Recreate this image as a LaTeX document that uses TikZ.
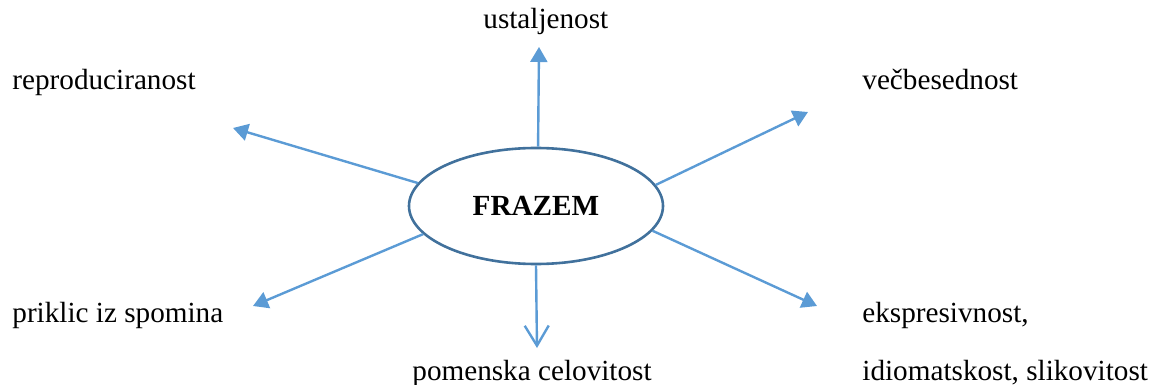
\documentclass[tikz,border=0pt]{standalone}
\usepackage{fontspec}
\setmainfont{Liberation Serif}
\usetikzlibrary{arrows.meta,shapes.geometric}

\definecolor{arrowblue}{RGB}{91,155,213}
\definecolor{rimblue}{RGB}{65,113,156}

\begin{document}
\begin{tikzpicture}[
x=0.5pt, y=-0.5pt,
label/.style={
    anchor=base west,
    inner sep=0pt,
    font=\fontsize{14.6}{17}\selectfont},
core/.style={
    draw=rimblue,
    line width=1.3pt,
    ellipse,
    inner sep=0pt,
    minimum width=127pt,
    minimum height=58pt,
    font=\fontsize{14.6}{17}\selectfont\bfseries},
link/.style={
    draw=arrowblue,
    line width=1.2pt,
    -{Triangle[width=8.5pt,length=7.5pt]}}
]

\useasboundingbox (0,0) rectangle (1152,385);

% centre
\node (frazem) at (536,206) [core] {FRAZEM};

% labels
\node (ust) at (483,29) [label] {ustaljenost};
\node (rep) at (12,90) [label] {reproduciranost};
\node (vec) at (862,90) [label] {večbesednost};
\node (pri) at (12,322) [label] {priklic iz spomina};
\node (eks) at (862,322) [label] {ekspresivnost,};
\node (idi) at (862,380) [label] {idiomatskost, slikovitost};
\node (pom) at (412,380) [label] {pomenska celovitost};

% arrow tips
\coordinate (tipust) at (539,47);
\coordinate (tiprep) at (233,128);
\coordinate (tipvec) at (808,112);
\coordinate (tippri) at (253,306);
\coordinate (tipeks) at (817,306);
\coordinate (tippom) at (537,348);

\draw [link] (frazem.88) -- (tipust);
\draw [link] (frazem.169) -- (tiprep);
\draw [link] (frazem.10) -- (tipvec);
\draw [link] (frazem.194) -- (tippri);
\draw [link] (frazem.348) -- (tipeks);
\draw [link, -{Straight Barb[width=12pt,length=10pt]}] (frazem.south) -- (tippom);

\end{tikzpicture}
\end{document}
